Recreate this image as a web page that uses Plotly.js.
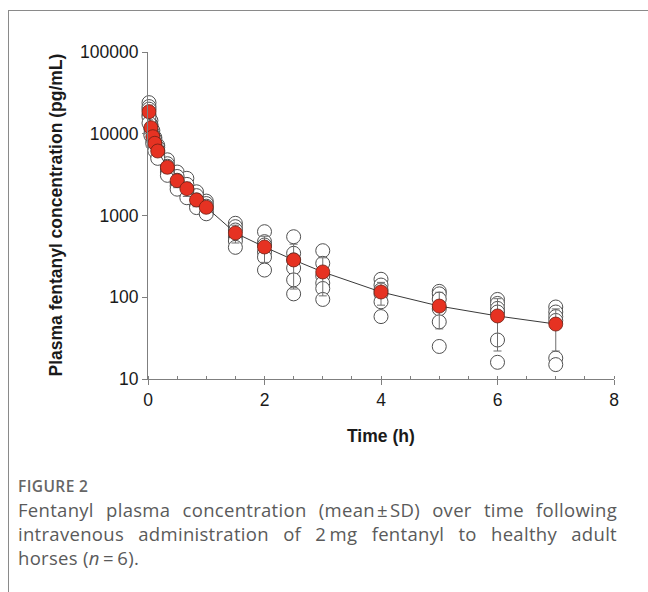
<!DOCTYPE html>
<html>
<head>
<meta charset="utf-8">
<script src="https://cdn.plot.ly/plotly-3.0.1.min.js"></script>
<style>
  html, body { margin: 0; padding: 0; background: #fff; }
  #wrap { position: relative; width: 648px; height: 592px; overflow: hidden; background: #fff; }
  #chart { position: absolute; left: 0; top: 0; width: 648px; height: 592px; }
  #frame { position: absolute; left: 8px; top: 10px; right: -2px; bottom: -2px;
           border-left: 1px solid #8a8a8a; border-top: 1px solid #8a8a8a; pointer-events: none; }
  #caption { position: absolute; left: 18px; top: 474px; width: 599px;
             font-family: "Open Sans", "Noto Sans", sans-serif; color: #5a5a5a; }
  #caption .fig { font-size: 15.5px; font-weight: 600; color: #666; line-height: 24px; letter-spacing: 0.4px; }
  #caption .ln { font-size: 18.5px; line-height: 24px; letter-spacing: 0.3px; text-align: justify; text-align-last: justify; white-space: nowrap; }
  #caption .ln.last { text-align-last: left; }
</style>
</head>
<body>
<div id="wrap">
  <div id="chart"></div>
  <div id="frame"></div>
  <div id="caption">
    <div class="fig">FIGURE 2</div>
    <div class="ln">Fentanyl plasma concentration (mean&#8202;±&#8202;SD) over time following</div>
    <div class="ln">intravenous administration of 2&#8201;mg fentanyl to healthy adult</div>
    <div class="ln last">horses (<i>n</i>&#8201;=&#8201;6).</div>
  </div>
</div>
<script>
// Sampling times (h)
const times = [0.017, 0.05, 0.083, 0.117, 0.167, 0.333, 0.5, 0.667, 0.833, 1, 1.5, 2, 2.5, 3, 4, 5, 6, 7];

// Mean and SD plasma fentanyl concentration (pg/mL)
const meanConc = [18600, 11860, 9200, 7640, 6150, 3890, 2670, 2130, 1550, 1260, 611, 412, 286, 204, 116, 78, 59, 47];
const sdConc   = [3800, 1900, 1300, 1000, 850, 600, 480, 420, 270, 180, 150, 145, 160, 100, 36, 37, 37, 25];

// Individual horse values at each time (six per time point, listed high to low)
const indiv1 = [24000, 14500, 11000, 9000, 7200, 4800, 3400, 2850, 1950, 1500, 803, 634, 550, 371, 166, 118, 94, 76];
const indiv2 = [21500, 13000, 10000, 8500, 6800, 4300, 3000, 2400, 1750, 1400, 730, 479, 345, 260, 141, 110, 84, 66];
const indiv3 = [20000, 12500, 9500, 7800, 6300, 4000, 2700, 2100, 1550, 1300, 665, 436, 286, 182, 123, 95, 73, 58];
const indiv4 = [17000, 11500, 9000, 7500, 6000, 3700, 2500, 2000, 1450, 1200, 546, 357, 228, 149, 110, 72, 66, 52];
const indiv5 = [16000, 10000, 8000, 6800, 5400, 3400, 2300, 1800, 1350, 1100, 488, 310, 163, 128, 88, 50, 30, 18];
const indiv6 = [13500, 9500, 7500, 6200, 5000, 3100, 2100, 1650, 1250, 1050, 408, 215, 110, 94, 58, 25, 16, 15];

// Axis ticks
const xTickVals = [0, 2, 4, 6, 8];
const yTickVals = [10, 100, 1000, 10000, 100000];
const yTickText = ['10', '100', '1000', '10000', '100000'];

const xTitle = 'Time (h)';
const yTitle = 'Plasma fentanyl concentration (pg/mL)';

const indivSets = [indiv1, indiv2, indiv3, indiv4, indiv5, indiv6];
const allX = [], allY = [];
indivSets.forEach(s => { s.forEach((v, i) => { allX.push(times[i]); allY.push(v); }); });

const traces = [
  {
    type: 'scatter', mode: 'markers', x: allX, y: allY, cliponaxis: false,
    marker: { symbol: 'circle', size: 14, color: '#ffffff', line: { color: '#505050', width: 1 } },
    hoverinfo: 'skip', showlegend: false
  },
  {
    type: 'scatter', mode: 'lines+markers', x: times, y: meanConc, cliponaxis: false,
    line: { color: '#3a3a3a', width: 1 },
    marker: { symbol: 'circle', size: 14, color: 'rgb(230,50,34)', line: { color: '#6b1f14', width: 0.8 } },
    error_y: { type: 'data', array: sdConc, visible: true, color: '#6e6e6e', thickness: 1, width: 4 },
    showlegend: false
  }
];

const fontFam = 'Liberation Sans, Arial, sans-serif';

const layout = {
  width: 648, height: 592,
  margin: { l: 148, r: 34, t: 52, b: 213, pad: 0 },
  paper_bgcolor: 'rgba(0,0,0,0)', plot_bgcolor: 'rgba(0,0,0,0)',
  font: { family: fontFam, size: 17.5, color: '#1a1a1a' },
  showlegend: false,
  xaxis: {
    range: [0, 8], tickvals: xTickVals, ticktext: xTickVals.map(String),
    showline: true, linecolor: '#7f7f7f', linewidth: 1,
    ticks: 'outside', ticklen: 5, tickcolor: '#7f7f7f', tickwidth: 1,
    minor: { dtick: 0.5, tick0: 0, ticks: 'inside', ticklen: 3, tickcolor: '#7f7f7f', showgrid: false },
    showgrid: false, zeroline: false, fixedrange: true,
    tickfont: { family: fontFam, size: 17.5, color: '#1a1a1a' }
  },
  yaxis: {
    type: 'log', range: [1, 5], tickvals: yTickVals, ticktext: yTickText,
    showline: true, linecolor: '#7f7f7f', linewidth: 1,
    ticks: 'outside', ticklen: 5, tickcolor: '#7f7f7f', tickwidth: 1,
    showgrid: false, zeroline: false, fixedrange: true,
    tickfont: { family: fontFam, size: 17.5, color: '#1a1a1a' }
  },
  annotations: [
    { text: '<b>' + xTitle + '</b>', xref: 'paper', yref: 'paper', x: 0.5, y: 0,
      xanchor: 'center', yanchor: 'middle', yshift: -57, showarrow: false,
      font: { family: fontFam, size: 17.5, color: '#1a1a1a' } },
    { text: '<b>' + yTitle + '</b>', xref: 'paper', yref: 'paper', x: 0, y: 0.5,
      xanchor: 'center', yanchor: 'middle', xshift: -93, textangle: -90, showarrow: false,
      font: { family: fontFam, size: 17.5, color: '#1a1a1a' } }
  ]
};

Plotly.newPlot('chart', traces, layout, { staticPlot: true, displayModeBar: false });
</script>
</body>
</html>
